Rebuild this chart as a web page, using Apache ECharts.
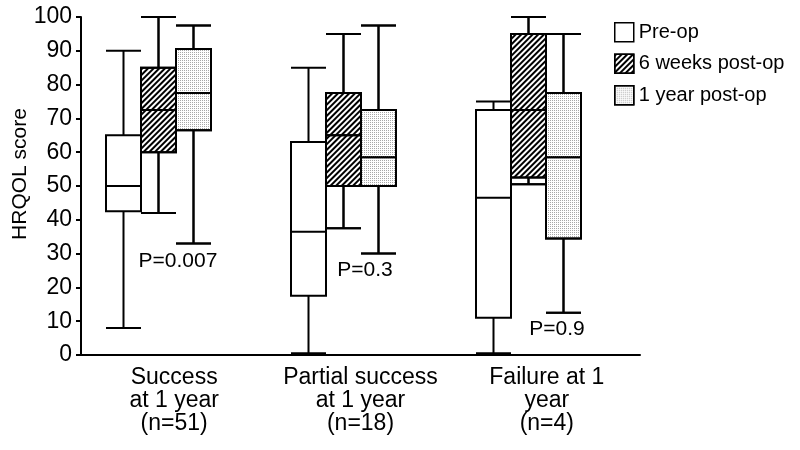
<!DOCTYPE html>
<html>
<head>
<meta charset="utf-8">
<script src="https://cdn.jsdelivr.net/npm/echarts@6/dist/echarts.min.js"></script>
<style>html,body{margin:0;padding:0;background:#fff}#c{width:800px;height:450px}</style>
</head>
<body>
<div id="c"></div>
<script>
// ---- data ----
var categories = ['Success\nat 1 year\n(n=51)', 'Partial success\nat 1 year\n(n=18)', 'Failure at 1\nyear\n(n=4)'];
var seriesNames = ['Pre-op', '6 weeks post-op', '1 year post-op'];
// [min, Q1, median, Q3, max]
var preOp  = [[8, 42.5, 50, 65, 90], [0.5, 17.5, 36.5, 63, 85], [0.5, 11, 46.5, 72.5, 75]];
var weeks6 = [[42, 60, 72.5, 85, 100], [37.5, 50, 65, 77.5, 95], [50.5, 52.5, 72.5, 95, 100]];
var year1  = [[33, 66.5, 77.5, 90.5, 97.5], [30, 50, 58.5, 72.5, 97.5], [12.5, 34.5, 58.5, 77.5, 95]];
var pLabels = ['P=0.007', 'P=0.3', 'P=0.9'];

var FONT = '"Liberation Sans", Arial, Helvetica, sans-serif';
var chart = echarts.init(document.getElementById('c'), null, {renderer: 'canvas'});

var gridTop = 17, gridBottom = 95;
var boxGridLefts = [31, 66, 101];
var grids = boxGridLefts.map(function (l) {
  return {left: l, width: 555, top: gridTop, bottom: gridBottom, containLabel: false};
});
grids.push({left: 81, right: 160, top: gridTop, bottom: gridBottom, containLabel: false});

var xAxes = [], yAxes = [];
for (var i = 0; i < 3; i++) {
  xAxes.push({type: 'category', gridIndex: i, data: categories, show: false});
  yAxes.push({type: 'value', gridIndex: i, min: 0, max: 100, show: false});
}
xAxes.push({
  type: 'category', gridIndex: 3, data: categories,
  axisLine: {show: true, lineStyle: {color: '#000', width: 2}},
  axisTick: {show: false},
  axisLabel: {interval: 0, color: '#000', fontFamily: FONT, fontSize: 23, lineHeight: 23, margin: 11}
});
yAxes.push({
  type: 'value', gridIndex: 3, min: 0, max: 100, interval: 10,
  axisLine: {show: true, lineStyle: {color: '#000', width: 2}},
  axisTick: {show: true, length: 5, lineStyle: {color: '#000', width: 2}},
  splitLine: {show: false},
  axisLabel: {color: '#000', fontFamily: FONT, fontSize: 23, margin: 9}
});

var hatch = {symbol: 'rect', symbolSize: 1, color: '#000', dashArrayX: [1, 0], dashArrayY: [1.5, 1.8], rotation: -Math.PI / 4};
var dots = {symbol: 'rect', symbolSize: 1, color: '#a8a8a8', dashArrayX: [1, 1], dashArrayY: [1, 1], rotation: 0};
var styles = [
  {color: '#fff', borderColor: '#000', borderWidth: 2},
  {color: '#fff', borderColor: '#000', borderWidth: 2, decal: hatch},
  {color: '#fff', borderColor: '#000', borderWidth: 2, decal: dots}
];
var datasets = [preOp, weeks6, year1];
var series = datasets.map(function (d, i) {
  return {
    name: seriesNames[i], type: 'boxplot', xAxisIndex: i, yAxisIndex: i,
    boxWidth: [35, 35], data: d, itemStyle: styles[i],
    emphasis: {disabled: true}, silent: true
  };
});
var legendData = seriesNames.map(function (n, i) {
  var st = {color: '#fff', borderColor: '#000', borderWidth: 1.5};
  if (i === 1) st.decal = hatch;
  if (i === 2) st.decal = dots;
  return {name: n, icon: 'rect', itemStyle: st};
});

chart.setOption({
  animation: false,
  textStyle: {fontFamily: FONT},
  grid: grids, xAxis: xAxes, yAxis: yAxes,
  legend: {
    orient: 'vertical', left: 609, top: 17, itemWidth: 19, itemHeight: 19, itemGap: 11,
    data: legendData,
    textStyle: {color: '#000', fontSize: 20, fontFamily: FONT}
  },
  series: series,
  graphic: [
    {type: 'text', x: 20, y: 174, rotation: Math.PI / 2,
     style: {text: 'HRQOL score', fill: '#000', font: '21px ' + FONT, textAlign: 'center', textVerticalAlign: 'middle'}},
    {type: 'text', x: 178, y: 261, style: {text: pLabels[0], fill: '#000', font: '21px ' + FONT, textAlign: 'center', textVerticalAlign: 'middle'}},
    {type: 'text', x: 365, y: 270, style: {text: pLabels[1], fill: '#000', font: '21px ' + FONT, textAlign: 'center', textVerticalAlign: 'middle'}},
    {type: 'text', x: 557, y: 329, style: {text: pLabels[2], fill: '#000', font: '21px ' + FONT, textAlign: 'center', textVerticalAlign: 'middle'}}
  ]
});
</script>
</body>
</html>
